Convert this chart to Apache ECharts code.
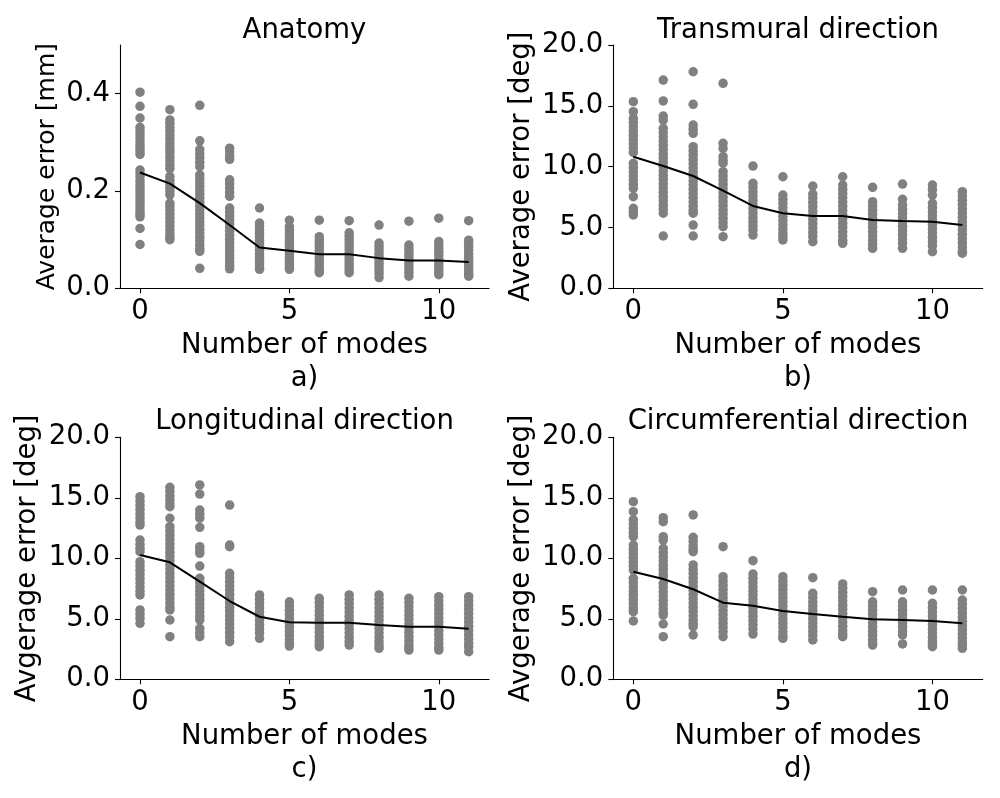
<!DOCTYPE html>
<html><head><meta charset="utf-8">
<script src="https://cdn.jsdelivr.net/npm/echarts@6/dist/echarts.min.js"></script>
<style>html,body{margin:0;padding:0;background:#fff}#c{width:1000px;height:798px}</style>
</head><body><div id="c"></div>
<script>
const modes = [0,1,2,3,4,5,6,7,8,9,10,11];
const xTicks = [0,5,10];
const mmTicks = [0,0.2,0.4];
const degTicks = [0,5,10,15,20];

const anatomyPts = [
  [0.403,0.374,0.350,0.331,0.324,0.316,0.309,0.301,0.294,0.287,0.281,0.275,0.243,0.236,0.229,0.221,0.214,0.207,0.200,0.193,0.186,0.179,0.172,0.165,0.158,0.152,0.147,0.123,0.090],
  [0.367,0.346,0.339,0.331,0.323,0.315,0.307,0.299,0.291,0.284,0.278,0.270,0.262,0.254,0.246,0.230,0.222,0.214,0.206,0.199,0.192,0.175,0.168,0.160,0.152,0.144,0.136,0.128,0.120,0.112,0.105,0.100],
  [0.376,0.303,0.285,0.277,0.268,0.259,0.250,0.233,0.225,0.217,0.209,0.201,0.193,0.185,0.177,0.169,0.161,0.153,0.145,0.137,0.129,0.121,0.113,0.105,0.097,0.089,0.082,0.076,0.041],
  [0.288,0.280,0.272,0.265,0.223,0.215,0.206,0.197,0.189,0.165,0.157,0.149,0.141,0.133,0.125,0.117,0.109,0.101,0.093,0.085,0.077,0.069,0.061,0.054,0.047,0.040],
  [0.165,0.134,0.127,0.120,0.113,0.106,0.099,0.092,0.085,0.078,0.071,0.064,0.057,0.050,0.044,0.039],
  [0.140,0.127,0.120,0.113,0.106,0.099,0.092,0.085,0.078,0.071,0.064,0.057,0.050,0.044,0.039],
  [0.140,0.106,0.099,0.092,0.085,0.078,0.071,0.064,0.057,0.050,0.043,0.037,0.032],
  [0.139,0.114,0.107,0.100,0.093,0.086,0.079,0.072,0.065,0.058,0.051,0.044,0.038,0.032],
  [0.130,0.093,0.086,0.079,0.072,0.065,0.058,0.051,0.044,0.037,0.030,0.022],
  [0.138,0.089,0.082,0.075,0.068,0.061,0.054,0.047,0.040,0.033,0.025],
  [0.144,0.096,0.089,0.082,0.075,0.068,0.061,0.054,0.047,0.040,0.034,0.028],
  [0.139,0.099,0.092,0.085,0.078,0.071,0.064,0.057,0.050,0.043,0.036,0.030,0.025]
];
const anatomyMean = [0.238,0.215,0.175,0.130,0.084,0.077,0.070,0.070,0.062,0.057,0.057,0.054];

const transPts = [
  [15.34,14.52,13.97,13.62,13.27,12.92,12.57,12.22,11.87,11.52,11.17,10.28,9.93,9.58,9.23,8.88,8.53,8.22,7.53,6.58,6.28,6.03],
  [17.12,15.40,14.16,13.83,13.15,12.80,12.45,12.10,11.75,11.40,11.05,10.70,10.35,10.00,9.65,9.30,8.95,8.60,8.25,7.90,7.55,7.20,6.85,6.50,6.17,4.30],
  [17.80,15.12,13.42,13.08,12.74,11.64,11.29,10.94,10.59,10.24,9.89,9.54,9.19,8.84,8.49,8.14,7.79,7.44,7.09,6.74,6.42,6.17,5.20,4.30],
  [16.85,11.92,11.50,10.82,10.50,10.28,9.59,9.24,8.89,8.54,8.19,7.84,7.49,7.14,6.79,6.44,6.09,5.74,5.39,5.06,4.24],
  [10.05,8.63,8.28,7.93,7.58,7.23,6.88,6.53,6.18,5.83,5.48,5.13,4.78,4.38],
  [9.17,7.67,7.32,6.97,6.62,6.27,5.92,5.57,5.22,4.87,4.52,4.20,3.97],
  [8.41,7.75,7.40,7.05,6.70,6.35,6.00,5.65,5.30,4.95,4.60,4.25,3.83],
  [9.17,8.49,8.14,7.79,7.44,7.09,6.74,6.39,6.04,5.69,5.34,4.99,4.64,4.29,3.94,3.70],
  [8.30,7.12,6.77,6.42,6.07,5.72,5.37,5.02,4.67,4.32,3.97,3.62,3.29],
  [8.57,7.32,6.85,6.50,6.15,5.80,5.45,5.10,4.75,4.40,4.05,3.70,3.29],
  [8.49,8.10,7.67,6.99,6.64,6.29,5.94,5.59,5.24,4.89,4.54,4.19,3.84,3.49,3.01],
  [7.94,7.59,7.24,6.89,6.54,6.19,5.84,5.49,5.14,4.79,4.44,4.09,3.74,3.39,3.04,2.88]
];
const transMean = [10.82,10.05,9.23,8.03,6.77,6.17,5.94,5.94,5.61,5.53,5.48,5.20];

const longPts = [
  [15.09,14.74,14.39,14.04,13.69,13.34,12.99,12.75,11.51,11.16,10.83,10.55,9.72,9.37,9.02,8.67,8.32,7.97,7.62,7.27,6.97,5.73,5.38,5.03,4.63],
  [15.87,15.52,15.17,14.82,14.50,14.26,13.31,12.61,12.26,11.91,11.56,11.21,10.86,10.51,10.16,9.81,9.46,9.11,8.76,8.41,8.06,7.71,7.36,7.01,6.66,6.31,5.96,5.73,4.90,3.52],
  [16.06,15.31,13.99,13.65,13.31,12.56,10.96,10.68,10.41,9.36,8.35,8.00,7.65,7.30,6.95,6.60,6.25,5.90,5.55,5.20,4.90,4.21,3.85,3.52],
  [14.40,11.10,10.96,8.76,8.41,8.06,7.71,7.36,7.01,6.66,6.31,5.96,5.61,5.26,4.91,4.56,4.21,3.86,3.51,3.11],
  [6.97,6.62,6.27,5.92,5.57,5.22,4.87,4.52,4.17,3.82,3.39],
  [6.41,6.06,5.71,5.36,5.01,4.66,4.31,3.96,3.61,3.26,2.95,2.75],
  [6.69,6.34,5.99,5.64,5.29,4.94,4.59,4.24,3.89,3.54,3.19,2.90,2.69],
  [6.97,6.62,6.27,5.92,5.57,5.22,4.87,4.52,4.17,3.82,3.47,3.12,2.83],
  [6.97,6.62,6.27,5.92,5.57,5.22,4.87,4.52,4.17,3.82,3.47,3.12,2.80,2.56],
  [6.69,6.34,5.99,5.64,5.29,4.94,4.59,4.24,3.89,3.54,3.19,2.84,2.60,2.42],
  [6.83,6.48,6.13,5.78,5.43,5.08,4.73,4.38,4.03,3.68,3.33,2.98,2.63,2.42],
  [6.83,6.48,6.13,5.78,5.43,5.08,4.73,4.38,4.03,3.68,3.33,2.98,2.70,2.28]
];
const longMean = [10.27,9.67,8.07,6.47,5.17,4.71,4.68,4.68,4.49,4.35,4.35,4.18];

const circPts = [
  [14.68,13.85,13.17,12.82,12.47,12.12,11.79,11.10,10.75,10.40,10.05,9.70,9.35,9.03,8.35,8.00,7.65,7.30,6.95,6.60,6.25,5.90,5.59,4.82],
  [13.36,13.02,11.79,11.51,10.83,10.48,10.13,9.78,9.43,9.08,8.73,8.48,7.93,7.58,7.23,6.88,6.53,6.18,5.83,5.50,5.31,4.57,3.52],
  [13.58,11.74,11.40,11.05,10.75,10.55,9.45,9.10,8.75,8.40,8.05,7.70,7.35,7.00,6.65,6.30,5.95,5.60,5.25,4.90,4.60,4.35,3.66],
  [10.96,8.48,8.13,7.78,7.43,7.08,6.73,6.38,6.03,5.68,5.33,4.98,4.63,4.28,3.93,3.52],
  [9.80,8.70,8.35,8.00,7.65,7.30,6.95,6.60,6.25,5.90,5.55,5.20,4.85,4.50,4.15,3.74],
  [8.48,8.13,7.78,7.43,7.08,6.73,6.38,6.03,5.68,5.33,4.98,4.63,4.28,3.93,3.60,3.39],
  [8.40,7.11,6.76,6.41,6.06,5.71,5.36,5.01,4.66,4.31,3.96,3.61,3.25],
  [7.88,7.53,7.18,6.83,6.48,6.13,5.78,5.43,5.08,4.73,4.38,4.03,3.75,3.52],
  [7.24,6.41,6.06,5.71,5.36,5.01,4.66,4.31,3.96,3.61,3.26,3.00,2.83],
  [7.38,6.41,6.06,5.71,5.36,5.01,4.66,4.31,3.96,3.66,2.92],
  [7.38,6.28,5.93,5.58,5.23,4.88,4.53,4.18,3.83,3.48,3.13,2.90,2.69],
  [7.38,6.55,6.20,5.85,5.50,5.15,4.80,4.45,4.10,3.75,3.40,3.05,2.80,2.56]
];
const circMean = [8.89,8.29,7.44,6.33,6.08,5.64,5.40,5.17,4.96,4.90,4.82,4.63];

const panels = [
  {title:'Anatomy', ylabel:'Average error [mm]', sub:'a)', pts:anatomyPts, mean:anatomyMean, ymax:0.5, yticks:mmTicks, yfs:25, ygap:60.5},
  {title:'Transmural direction', ylabel:'Average error [deg]', sub:'b)', pts:transPts, mean:transMean, ymax:20, yticks:degTicks, yfs:27.5, ygap:77.5},
  {title:'Longitudinal direction', ylabel:'Avgerage error [deg]', sub:'c)', pts:longPts, mean:longMean, ymax:20, yticks:degTicks, yfs:27.5, ygap:78.5},
  {title:'Circumferential direction', ylabel:'Avgerage error [deg]', sub:'d)', pts:circPts, mean:circMean, ymax:20, yticks:degTicks, yfs:27.5, ygap:77.5}
];

const FF = 'DejaVu Sans';
const grids = [
  {left:120, top:45, width:369, height:243.3},
  {left:613.3, top:45, width:369.4, height:243.3},
  {left:120, top:437.3, width:369, height:242},
  {left:613.3, top:437.3, width:369.4, height:242}
];
const titlePos = [[304.5,31],[798,31],[304.5,422],[798,422]];

const xAxes = [], yAxes = [], series = [], graphics = [];
panels.forEach((p, i) => {
  xAxes.push({
    type:'value', gridIndex:i, min:-0.67, max:11.68,
    axisLine:{show:true, onZero:false, lineStyle:{color:'#000', width:1.1}},
    axisTick:{show:true, length:5, customValues:xTicks, lineStyle:{color:'#000', width:1.1}},
    axisLabel:{customValues:xTicks, margin:10, fontSize:27.5, color:'#000', fontFamily:FF},
    splitLine:{show:false},
    name:'Number of modes\n' + p.sub, nameLocation:'middle', nameGap:41.5,
    nameTextStyle:{fontSize:27.5, lineHeight:33, color:'#000', fontFamily:FF}
  });
  yAxes.push({
    type:'value', gridIndex:i, min:0, max:p.ymax,
    axisLine:{show:true, onZero:false, lineStyle:{color:'#000', width:1.1}},
    axisTick:{show:true, length:5, customValues:p.yticks, lineStyle:{color:'#000', width:1.1}},
    axisLabel:{customValues:p.yticks, margin:10, fontSize:27.5, color:'#000', fontFamily:FF, formatter:v => Number(v).toFixed(1)},
    splitLine:{show:false},
    name:p.ylabel, nameLocation:'middle', nameGap:p.ygap,
    nameTextStyle:{fontSize:p.yfs, color:'#000', fontFamily:FF}
  });
  const sc = [];
  p.pts.forEach((arr, m) => arr.forEach(v => sc.push([modes[m], v])));
  series.push({type:'scatter', xAxisIndex:i, yAxisIndex:i, data:sc, symbolSize:9.5,
    itemStyle:{color:'#808080', opacity:1}, silent:true, z:2});
  series.push({type:'line', xAxisIndex:i, yAxisIndex:i, data:modes.map((m, k) => [m, p.mean[k]]),
    showSymbol:false, lineStyle:{color:'#000', width:2}, silent:true, z:3});
  graphics.push({type:'text', x:titlePos[i][0], y:titlePos[i][1],
    style:{text:p.title, font:'27.5px "DejaVu Sans"', fill:'#000', align:'center', verticalAlign:'middle', textAlign:'center', textVerticalAlign:'middle'}});
});

const chart = echarts.init(document.getElementById('c'), null, {renderer:'canvas'});
chart.setOption({
  animation:false, backgroundColor:'#fff',
  grid:grids, xAxis:xAxes, yAxis:yAxes, series:series, graphic:graphics
});
</script></body></html>
